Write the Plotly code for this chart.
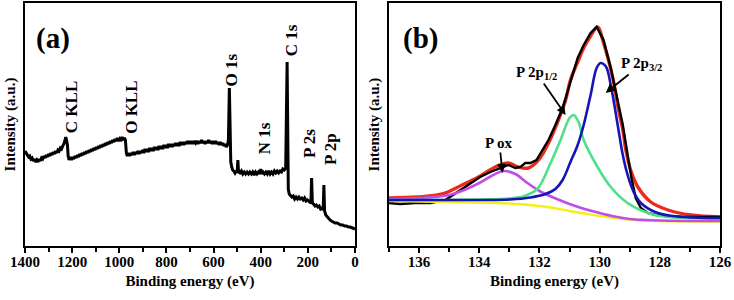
import plotly.graph_objects as go

# ---------------- Panel (a): survey spectrum ----------------
survey_be = [1400, 1395, 1390, 1385, 1380, 1375, 1370, 1365, 1360, 1355, 1350, 1345, 1340, 1335, 1330,
             1325, 1320, 1315, 1310, 1305, 1300, 1295, 1290, 1285, 1280, 1275, 1270, 1265, 1260, 1255,
             1250, 1245, 1240, 1235, 1230, 1227, 1224, 1220, 1217, 1213, 1208, 1203, 1198, 1193, 1188,
             1183, 1178, 1173, 1168, 1163, 1158, 1153, 1148, 1143, 1138, 1133, 1128, 1123, 1118, 1113,
             1108, 1103, 1098, 1093, 1088, 1083, 1078, 1073, 1068, 1063, 1058, 1053, 1048, 1043, 1038,
             1033, 1028, 1023, 1018, 1013, 1008, 1003, 998, 993, 988, 983, 978, 974, 970, 966,
             961, 956, 951, 946, 941, 936, 931, 926, 921, 916, 911, 906, 901, 896, 891,
             886, 881, 876, 871, 866, 861, 856, 851, 846, 841, 836, 831, 826, 821, 816,
             811, 806, 801, 796, 791, 786, 781, 776, 771, 766, 761, 756, 751, 746, 741,
             736, 731, 726, 721, 716, 711, 706, 701, 696, 691, 686, 681, 676, 671, 666,
             661, 656, 651, 646, 641, 636, 631, 626, 621, 616, 611, 606, 601, 596, 591,
             586, 581, 576, 571, 566, 561, 556, 551, 546, 541, 537, 533, 530, 527, 523,
             519, 514, 509, 504, 500, 497, 494, 488, 482, 476, 470, 464, 458, 452, 446,
             440, 434, 428, 422, 416, 410, 404, 400, 396, 390, 384, 378, 372, 366, 360,
             354, 348, 342, 336, 330, 324, 318, 312, 306, 300, 294, 288, 283, 279, 274,
             268, 262, 256, 250, 244, 238, 232, 226, 220, 214, 208, 202, 196, 190, 187,
             184, 181, 176, 170, 164, 158, 152, 146, 140, 135, 132, 129, 124, 118, 112,
             106, 100, 92, 84, 76, 68, 60, 52, 44, 36, 28, 20, 12, 6, 0]
survey_int = [95, 93, 92, 89, 90, 87, 88, 85, 87, 84, 86, 84, 87, 85, 88,
              87, 90, 88, 91, 89, 92, 90, 93, 91, 94, 92, 95, 93, 96, 95,
              98, 97, 100, 102, 106, 109, 106, 101, 90, 86, 89, 86, 89, 87, 90,
              88, 91, 89, 92, 90, 93, 91, 94, 92, 95, 93, 96, 94, 97, 95,
              98, 96, 99, 97, 100, 98, 101, 99, 102, 100, 103, 101, 104, 102, 105,
              103, 106, 104, 107, 105, 108, 105, 107, 105, 109, 106, 108, 106, 93, 90,
              93, 90, 93, 91, 94, 91, 94, 92, 95, 92, 95, 93, 96, 93, 97,
              94, 97, 94, 98, 95, 98, 95, 99, 96, 99, 96, 100, 97, 100, 97,
              101, 98, 101, 98, 102, 99, 102, 99, 102, 100, 103, 100, 103, 100, 104,
              101, 104, 101, 104, 102, 105, 102, 105, 102, 105, 102, 105, 103, 105, 102,
              105, 103, 106, 103, 105, 102, 105, 103, 106, 103, 105, 102, 105, 102, 105,
              102, 104, 101, 104, 101, 103, 100, 102, 99, 101, 106, 158, 92, 84, 79,
              76, 75, 73, 75, 73, 86, 74, 73, 75, 72, 74, 72, 74, 72, 74,
              72, 74, 71, 74, 72, 74, 72, 77, 72, 74, 72, 74, 72, 75, 72,
              74, 72, 75, 73, 75, 73, 75, 74, 77, 76, 78, 184, 57, 52, 50,
              49, 50, 47, 49, 47, 49, 47, 48, 46, 48, 45, 46, 45, 44, 43,
              68, 43, 42, 40, 41, 39, 40, 37, 38, 36, 61, 35, 31, 29, 27,
              26, 25, 24, 23, 23, 22, 21, 21, 20, 20, 19, 19, 18, 18, 17]

survey_labels = ["C KLL", "O KLL", "O 1s", "C 1s", "N 1s", "P 2s", "P 2p"]
survey_label_be = [1204, 951, 528, 270, 385, 195, 106]
survey_label_int = [139, 139, 176, 206, 108, 102, 97]

# ---------------- Panel (b): P 2p high resolution ----------------
raw_be = [137.00, 136.63, 136.13, 135.63, 135.13, 134.63, 134.30, 133.97, 133.63, 133.30, 133.03, 132.80,
          132.63, 132.47, 132.30, 132.10, 131.90, 131.70, 131.47, 131.23, 131.03, 130.87, 130.73, 130.53,
          130.30, 130.10, 129.87, 129.63, 129.40, 129.23, 129.07, 128.93, 128.80, 128.63, 128.40, 128.13,
          127.80, 127.30, 126.63, 126.00]
raw_int = [43, 42, 43, 43, 46, 56, 62, 69, 74, 78, 81, 78,
           79, 83, 83, 86, 96, 106, 121, 138, 158, 174, 188, 201,
           213, 219, 206, 178, 146, 121, 91, 66, 48, 38, 33, 31,
           30, 29, 29, 29]

fit_be = [137.00, 136.03, 135.23, 134.57, 134.03, 133.47, 133.03, 132.70, 132.37, 132.03, 131.70, 131.37,
          131.13, 130.97, 130.73, 130.53, 130.30, 130.07, 129.87, 129.57, 129.37, 129.23, 129.13, 128.97,
          128.73, 128.30, 127.73, 126.97, 126.00]
fit_int = [48, 49, 52, 61, 69, 79, 83, 79, 78, 86, 103, 126,
           146, 166, 184, 198, 210, 219, 203, 169, 136, 116, 96, 76,
           59, 44, 36, 31, 29]

p32_be = [137.00, 133.97, 132.97, 132.30, 131.80, 131.47, 131.23, 130.97, 130.73, 130.53, 130.30, 130.10,
          129.97, 129.80, 129.60, 129.40, 129.23, 129.07, 128.87, 128.63, 128.07, 127.20, 126.00]
p32_int = [46, 46, 46.5, 48.5, 52, 57, 66, 84, 101, 121, 151, 178,
           183, 180, 156, 121, 91, 71, 54, 43, 33, 29, 28]

p12_be = [137.00, 135.00, 134.00, 133.00, 132.50, 132.07, 131.63, 131.30, 131.00, 130.87, 130.70, 130.53,
          130.07, 129.63, 129.07, 128.40, 127.73, 127.00, 126.00]
p12_int = [46, 46, 46.5, 47.5, 50, 57, 83, 106, 128, 131, 124, 106,
           79, 59, 43, 33, 29, 28, 27]

pox_be = [137.0, 136.0, 135.0, 134.5, 134.0, 133.6, 133.2, 132.8, 132.4, 132.0, 131.5, 131.0,
          130.5, 130.0, 129.5, 129.0, 128.5, 128.0, 126.0]
pox_int = [47, 48, 51, 56, 63, 70, 75, 72, 63, 55, 48, 42,
           37, 33, 29.5, 27, 26, 25.5, 25]

bg_be = [137.0, 135.0, 133.0, 132.0, 131.5, 131.0, 130.5, 130.0, 129.5, 129.0, 128.5, 128.0, 126.0]
bg_int = [45, 44, 42.5, 40, 38, 35, 32.5, 30, 28, 26.5, 25.5, 25, 24.5]

# peak labels of panel (b): text position and arrow tip
peak_labels = ["P 2p<sub>1/2</sub>", "P 2p<sub>3/2</sub>", "P ox"]
peak_label_be = [132.1, 128.6, 133.33]
peak_label_int = [173, 182, 103]
peak_tip_be = [131.13, 129.8, 133.23]
peak_tip_int = [131, 153, 73]

x_ticks_a = [1400, 1200, 1000, 800, 600, 400, 200, 0]
x_ticks_b = [136, 134, 132, 130, 128, 126]

FONT = "Liberation Serif"
W, H = 734, 300

fig = go.Figure()

fig.add_trace(go.Scatter(x=survey_be, y=survey_int, mode="lines",
                         line=dict(color="black", width=3), xaxis="x", yaxis="y",
                         showlegend=False, hoverinfo="skip"))

fig.add_trace(go.Scatter(x=fit_be, y=fit_int, mode="lines", line_shape="spline",
                         line=dict(color="#ec2a1c", width=3.4), xaxis="x2", yaxis="y2", showlegend=False))
fig.add_trace(go.Scatter(x=raw_be, y=raw_int, mode="lines",
                         line=dict(color="black", width=2.4), xaxis="x2", yaxis="y2", showlegend=False))
fig.add_trace(go.Scatter(x=bg_be, y=bg_int, mode="lines", line_shape="spline",
                         line=dict(color="#f4ee1c", width=2.4), xaxis="x2", yaxis="y2", showlegend=False))
fig.add_trace(go.Scatter(x=pox_be, y=pox_int, mode="lines", line_shape="spline",
                         line=dict(color="#c04ee6", width=2.6), xaxis="x2", yaxis="y2", showlegend=False))
fig.add_trace(go.Scatter(x=p12_be, y=p12_int, mode="lines", line_shape="spline",
                         line=dict(color="#4ee08a", width=2.6), xaxis="x2", yaxis="y2", showlegend=False))
fig.add_trace(go.Scatter(x=p32_be, y=p32_int, mode="lines", line_shape="spline",
                         line=dict(color="#1414b8", width=2.6), xaxis="x2", yaxis="y2", showlegend=False))

ydom = [54 / H, 297 / H]
xtitle = dict(text="Binding energy (eV)", font=dict(family=FONT, size=15, color="black", weight="bold"),
              standoff=6)
ytitle = dict(text="Intensity (a.u.)", font=dict(family=FONT, size=15, color="black", weight="bold"),
              standoff=4)
common_x = dict(showline=True, mirror=True, linecolor="black", linewidth=2, showgrid=False,
                zeroline=False, ticks="outside", ticklen=5, tickwidth=1.5, tickcolor="black",
                ticklabelstandoff=-4, title=xtitle,
                tickfont=dict(family=FONT, size=15, color="black", weight="bold"), automargin=False)
common_y = dict(showline=True, mirror=True, linecolor="black", linewidth=2, showgrid=False,
                zeroline=False, showticklabels=False, ticks="", range=[0, 243], domain=ydom,
                title=ytitle, automargin=False, fixedrange=True)

fig.update_layout(
    width=W, height=H, margin=dict(l=0, r=0, t=0, b=0),
    paper_bgcolor="white", plot_bgcolor="white",
    xaxis=dict(common_x, domain=[25 / W, 355 / W], range=[1400, 0], anchor="y",
               tickvals=x_ticks_a, minor=dict(dtick=100, ticks="outside", ticklen=4, tickwidth=1.5,
                                              tickcolor="black")),
    yaxis=dict(common_y, anchor="x"),
    xaxis2=dict(common_x, domain=[389 / W, 720 / W], range=[137, 126], anchor="y2",
                tickvals=x_ticks_b, minor=dict(dtick=1, ticks="outside", ticklen=4, tickwidth=1.5,
                                               tickcolor="black")),
    yaxis2=dict(common_y, anchor="x2"),
)

ann = []
lbl_font = dict(family=FONT, size=17, color="black", weight="bold")
for t, bx, by in zip(survey_labels, survey_label_be, survey_label_int):
    ann.append(dict(x=bx, y=by, xref="x", yref="y", text=t, textangle=-90, showarrow=False,
                    font=lbl_font, xanchor="center", yanchor="middle"))

for t, cx in [("(a)", 53), ("(b)", 420)]:
    ann.append(dict(x=cx / W, y=(H - 38) / H, xref="paper", yref="paper", text=t, showarrow=False,
                    font=dict(family=FONT, size=29, color="black", weight="bold"),
                    xanchor="center", yanchor="middle"))

pfont = dict(family=FONT, size=15, color="black", weight="bold")
for t, lx, ly, hx, hy in zip(peak_labels, peak_label_be, peak_label_int, peak_tip_be, peak_tip_int):
    ann.append(dict(x=hx, y=hy, ax=lx, ay=ly, xref="x2", yref="y2", axref="x2", ayref="y2",
                    text=t, font=pfont, showarrow=True, arrowhead=2, arrowsize=1, arrowwidth=1.8,
                    arrowcolor="black", standoff=0, startstandoff=0))

fig.update_layout(annotations=ann)
fig.write_html("out.html")
